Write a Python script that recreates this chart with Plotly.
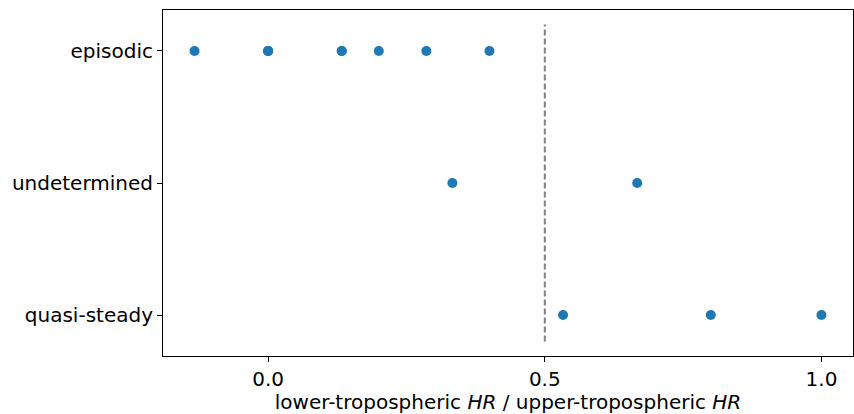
import plotly.graph_objects as go

categories = ["quasi-steady", "undetermined", "episodic"]
episodic_vals = [-0.133, 0.0, 0.0, 0.0, 0.133, 0.133, 0.2, 0.286, 0.4]
undetermined_vals = [0.333, 0.667]
quasi_steady_vals = [0.533, 0.8, 1.0]
threshold = 0.5
x_ticks = [0.0, 0.5, 1.0]
x_tick_labels = ["0.0", "0.5", "1.0"]

series = {
    "quasi-steady": quasi_steady_vals,
    "undetermined": undetermined_vals,
    "episodic": episodic_vals,
}

xs, ys = [], []
for i, c in enumerate(categories):
    for v in series[c]:
        xs.append(v)
        ys.append(i)

fig = go.Figure()
fig.add_trace(go.Scatter(
    x=xs, y=ys, mode="markers",
    marker=dict(color="#1f77b4", size=10, line=dict(width=0)),
    showlegend=False, hoverinfo="x+y",
))

fig.add_shape(type="line", xref="x", yref="y",
              x0=threshold, x1=threshold, y0=-0.2, y1=2.2,
              line=dict(color="#808080", width=2, dash="6px,3px"))

font = dict(family="DejaVu Sans", size=20, color="black")
fig.update_layout(
    width=854, height=414,
    margin=dict(l=163, r=1, t=10, b=58),
    paper_bgcolor="white", plot_bgcolor="white",
    font=font,
    xaxis=dict(
        range=[-0.19, 1.057], tickvals=x_ticks, ticktext=x_tick_labels,
        showgrid=False, zeroline=False, showline=True, linecolor="black",
        linewidth=1, mirror=True, ticks="outside", ticklen=5, tickwidth=1,
        tickcolor="black", tickfont=font,
        title=dict(text="lower-tropospheric <i>HR</i> / upper-tropospheric <i>HR</i>",
                   font=font, standoff=1),
    ),
    yaxis=dict(
        range=[-0.31, 2.31], tickvals=list(range(len(categories))),
        ticktext=categories,
        showgrid=False, zeroline=False, showline=True, linecolor="black",
        linewidth=1, mirror=True, ticks="outside", ticklen=5, tickwidth=1,
        tickcolor="black", tickfont=font,
    ),
)

fig.write_html("out.html")
